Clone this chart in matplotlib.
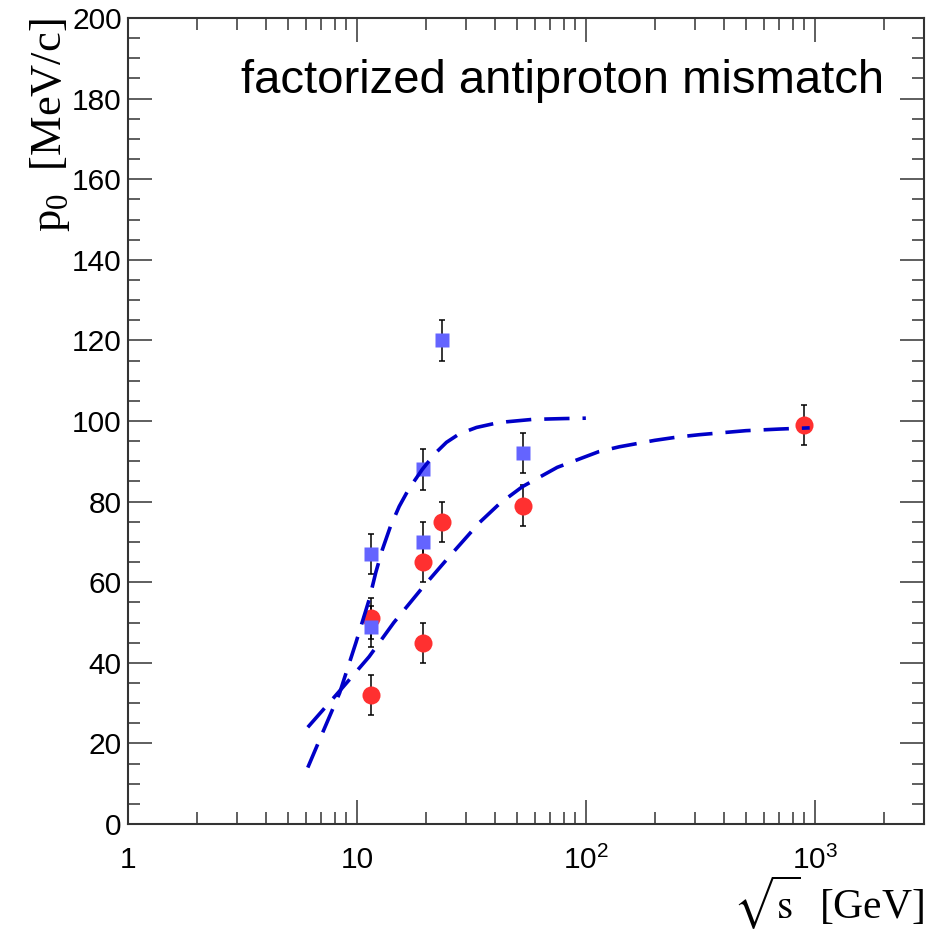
import numpy as np
import matplotlib.pyplot as plt
from matplotlib.ticker import FixedLocator, LogLocator, MultipleLocator, FuncFormatter

plt.rcParams['font.family'] = ['Liberation Sans', 'DejaVu Sans']

# datos (sqrt(s) en GeV, p0 en MeV/c)
x_rojo = [11.5, 11.5, 19.4, 19.4, 23.5, 53, 900]
y_rojo = [32, 51, 45, 65, 75, 79, 99]
e_rojo = [5, 5, 5, 5, 5, 5, 5]

x_azul = [11.5, 11.5, 19.4, 19.4, 23.5, 53]
y_azul = [67, 49, 88, 70, 120, 92]
e_azul = [5, 5, 5, 5, 5, 5]

# curvas punteadas (leidas punto a punto)
x_curva1 = [6.1, 7.0, 8.4, 9.9, 11.3, 12.1, 12.9, 14.0, 15.3, 16.8, 19.3, 22.0, 24.6, 28.0,
            33.3, 40, 45, 58.5, 80, 100]
y_curva1 = [14, 22, 32.5, 45, 55.6, 62.5, 68, 73.8, 78.8, 83, 88, 92, 94.7, 96.8,
            98.4, 99.4, 99.8, 100.4, 100.6, 100.7]

x_curva2 = [6.1, 8.4, 11.3, 14.5, 19.3, 25, 34.3, 42, 52.8, 75, 114, 140, 200, 250, 313,
            500, 700, 950]
y_curva2 = [24, 33, 41.5, 50, 58.6, 66, 74.8, 79.5, 83.7, 88.5, 92.4, 93.6, 95.2, 96, 96.6,
            97.6, 98, 98.3]

fig = plt.figure(figsize=(9.42, 9.31), dpi=100)
ax = fig.add_axes([128/942, 1-824/931, 796/942, 806/931])

ax.errorbar(x_rojo, y_rojo, yerr=e_rojo, fmt='o', color='#ff3030', ms=13, mec='none',
            ecolor='black', elinewidth=1.1, capsize=2.5, capthick=1.1, zorder=3)
ax.errorbar(x_azul, y_azul, yerr=e_azul, fmt='s', color='#6464ff', ms=10.5, mec='none',
            ecolor='black', elinewidth=1.1, capsize=2.5, capthick=1.1, zorder=3)

ax.plot(x_curva1, y_curva1, color='#0000c8', lw=2.6, dashes=(7, 3.6), zorder=4)
ax.plot(x_curva2, y_curva2, color='#0000c8', lw=2.6, dashes=(7, 3.6), zorder=4)

ax.set_xscale('log')
ax.set_xlim(1, 3000)
ax.set_ylim(0, 200)

ax.xaxis.set_major_locator(FixedLocator([1, 10, 100, 1000]))
ax.xaxis.set_minor_locator(LogLocator(base=10, subs=np.arange(2, 10), numticks=20))
etiquetas = {1: '1', 10: '10', 100: r'$\mathregular{10^2}$', 1000: r'$\mathregular{10^3}$'}
ax.xaxis.set_major_formatter(FuncFormatter(lambda v, p: etiquetas.get(int(round(v)), '')))
ax.yaxis.set_major_locator(MultipleLocator(20))
ax.yaxis.set_minor_locator(MultipleLocator(5))

ax.tick_params(which='both', direction='in', top=True, right=True, color='#333333', width=1.1)
ax.tick_params(which='major', length=17, labelsize=21.5)
ax.tick_params(which='minor', length=8.5)
ax.tick_params(axis='x', which='major', pad=16)
ax.tick_params(axis='y', which='major', pad=4.5)
for s in ax.spines.values():
    s.set_linewidth(1.5)
    s.set_color('#333333')

# titulo del eje y arriba a la izquierda (como en ROOT)
ax.text(-0.1256, 1.0, r'p$_{\mathregular{0}}$  [MeV/c]', transform=ax.transAxes, fontsize=32,
        family='Liberation Serif', rotation=90, rotation_mode='anchor', ha='right', va='top')
ax.set_xlabel(r'$\sqrt{\mathrm{s}}$  [GeV]', fontsize=30, family='Liberation Serif', loc='right',
              math_fontfamily='stix')
ax.xaxis.set_label_coords(1.0, -0.062)

ax.text(0.95, 0.907, 'factorized antiproton mismatch', transform=ax.transAxes,
        ha='right', va='baseline', fontsize=34)

fig.savefig('out.png', dpi=100)
